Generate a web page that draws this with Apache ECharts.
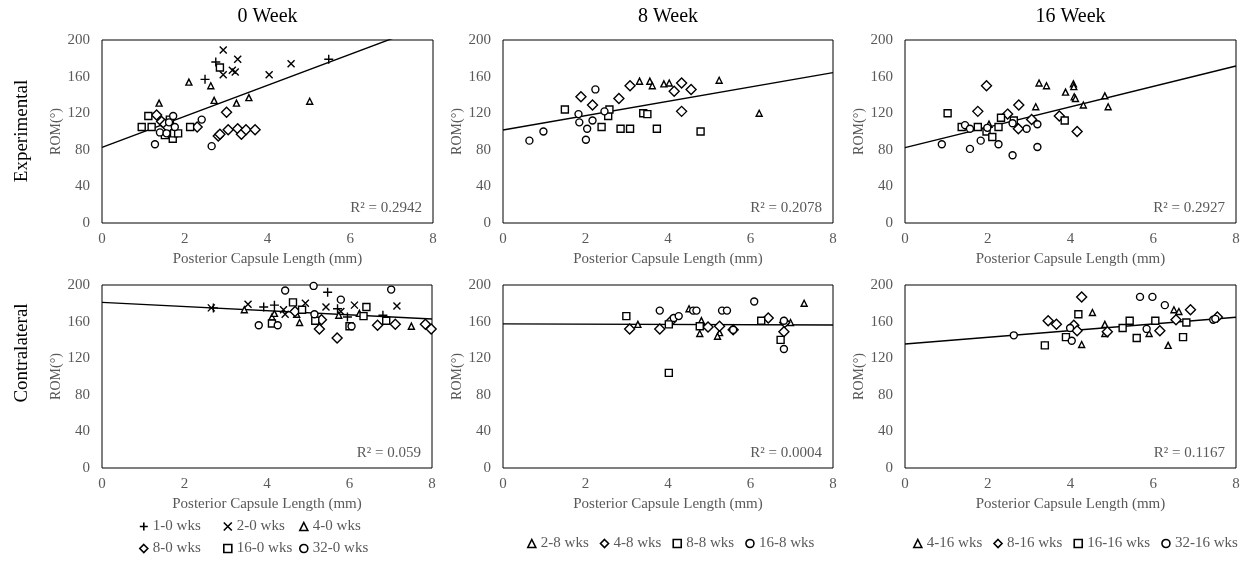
<!DOCTYPE html>
<html>
<head>
<meta charset="utf-8">
<script src="https://cdn.jsdelivr.net/npm/echarts@6/dist/echarts.min.js"></script>
<style>
  html, body { margin: 0; padding: 0; background: #fff; }
  #chart { width: 1246px; height: 569px; }
</style>
</head>
<body>
<div id="chart"></div>
<script>
// Axis ticks: posterior capsule length (mm) and range of motion (degrees)
const xTicks = [0, 2, 4, 6, 8];
const yTicks = [0, 40, 80, 120, 160, 200];

const columnTitles = ['0 Week', '8 Week', '16 Week'];
const rowTitles = ['Experimental', 'Contralateral'];

// Group names per time point
const groups0 = ['1-0 wks', '2-0 wks', '4-0 wks', '8-0 wks', '16-0 wks', '32-0 wks'];
const groups8 = ['2-8 wks', '4-8 wks', '8-8 wks', '16-8 wks'];
const groups16 = ['4-16 wks', '8-16 wks', '16-16 wks', '32-16 wks'];

// ---- Experimental, 0 week: [length, ROM] ----
const exp0_g1 = [[2.75, 176], [2.49, 157], [5.48, 179]];
const exp0_g2 = [[2.93, 189], [3.28, 179], [2.93, 162], [3.15, 167], [3.22, 165], [4.04, 162], [4.57, 174]];
const exp0_g4 = [[2.10, 154], [2.63, 150], [1.38, 131], [2.71, 134], [3.25, 131], [3.55, 137], [5.02, 133]];
const exp0_g8 = [[1.32, 118], [1.44, 111], [1.52, 108], [1.60, 104], [2.30, 105], [2.81, 95], [2.85, 97], [3.01, 121], [3.05, 102], [3.28, 103], [3.37, 97], [3.48, 102], [3.70, 102]];
const exp0_g16 = [[0.96, 105], [1.12, 117], [1.20, 105], [1.52, 96], [1.64, 113], [1.71, 92], [1.74, 98], [1.84, 98], [2.13, 105], [2.85, 170]];
const exp0_g32 = [[1.28, 86], [1.40, 99], [1.56, 98], [1.62, 110], [1.72, 117], [1.76, 105], [2.41, 113], [2.65, 84]];

// ---- Experimental, 8 week ----
const exp8_g2 = [[3.31, 155], [3.56, 155], [3.62, 150], [3.90, 152], [4.03, 153], [5.24, 156], [6.21, 120]];
const exp8_g4 = [[1.89, 138], [2.17, 129], [2.81, 136], [3.08, 150], [4.15, 144], [4.33, 153], [4.56, 146], [4.33, 122]];
const exp8_g8 = [[1.50, 124], [2.39, 105], [2.55, 117], [2.58, 124], [2.85, 103], [3.08, 103], [3.40, 120], [3.50, 119], [3.73, 103], [4.79, 100]];
const exp8_g16 = [[0.64, 90], [0.98, 100], [1.83, 119], [1.85, 110], [2.01, 91], [2.04, 103], [2.17, 112], [2.24, 146], [2.46, 122]];

// ---- Experimental, 16 week ----
const exp16_g4 = [[2.03, 108], [3.16, 127], [3.24, 153], [3.42, 150], [3.88, 143], [4.07, 152], [4.08, 149], [4.09, 138], [4.12, 136], [4.31, 129], [4.83, 139], [4.91, 127]];
const exp16_g8 = [[1.97, 150], [1.76, 122], [2.48, 119], [2.75, 129], [2.74, 103], [3.06, 113], [3.73, 117], [4.16, 100]];
const exp16_g16 = [[1.03, 120], [1.37, 105], [1.76, 105], [1.97, 100], [2.11, 94], [2.26, 105], [2.32, 115], [2.63, 112], [3.86, 112]];
const exp16_g32 = [[0.89, 86], [1.45, 107], [1.57, 103], [1.57, 81], [1.83, 90], [1.99, 104], [2.26, 86], [2.60, 74], [2.60, 109], [2.94, 103], [3.20, 108], [3.20, 83]];

// ---- Contralateral, 0 week ----
const con0_g1 = [[2.70, 175], [3.92, 176], [4.18, 178], [5.47, 192], [5.71, 174], [5.95, 165], [6.81, 167]];
const con0_g2 = [[2.65, 175], [3.54, 179], [4.40, 173], [4.44, 168], [4.93, 180], [5.43, 176], [5.79, 171], [6.12, 178], [7.15, 177]];
const con0_g4 = [[3.45, 173], [4.12, 165], [4.18, 169], [4.72, 168], [4.79, 159], [5.74, 167], [6.24, 169], [7.50, 155]];
const con0_g8 = [[4.68, 171], [5.27, 152], [5.32, 162], [5.70, 142], [6.68, 156], [7.11, 157], [7.84, 157], [7.98, 152]];
const con0_g16 = [[4.12, 158], [4.63, 181], [4.85, 173], [5.17, 161], [6.00, 155], [6.34, 166], [6.41, 176], [6.89, 161]];
const con0_g32 = [[3.80, 156], [4.26, 156], [4.44, 194], [5.13, 199], [5.15, 168], [5.79, 184], [6.05, 155], [7.01, 195]];

// ---- Contralateral, 8 week ----
const con8_g2 = [[3.27, 157], [4.51, 174], [4.81, 161], [4.77, 147], [5.25, 148], [5.20, 144], [6.97, 159], [7.30, 180]];
const con8_g4 = [[3.07, 152], [3.80, 152], [4.08, 161], [4.97, 154], [5.25, 155], [5.58, 151], [6.43, 164], [6.83, 159], [6.81, 149]];
const con8_g8 = [[2.99, 166], [4.02, 157], [4.02, 104], [4.77, 155], [6.26, 161], [6.73, 140]];
const con8_g16 = [[3.80, 172], [4.14, 164], [4.26, 166], [4.61, 172], [4.69, 172], [5.31, 172], [5.43, 172], [5.58, 151], [6.09, 182], [6.81, 161], [6.81, 130]];

// ---- Contralateral, 16 week ----
const con16_g4 = [[3.38, 134], [4.27, 135], [4.53, 170], [4.83, 157], [4.83, 147], [5.90, 147], [6.36, 134], [6.50, 173], [6.62, 171]];
const con16_g8 = [[3.46, 161], [3.66, 157], [4.08, 156], [4.16, 150], [4.27, 187], [4.89, 149], [6.16, 150], [6.55, 162], [6.90, 173], [7.55, 165]];
const con16_g16 = [[3.38, 134], [3.89, 143], [4.19, 168], [5.26, 153], [5.43, 161], [5.60, 142], [6.05, 161], [6.72, 143], [6.80, 159]];
const con16_g32 = [[2.63, 145], [3.99, 153], [4.03, 139], [5.68, 187], [5.84, 152], [5.98, 187], [6.28, 178], [7.45, 162], [7.50, 163]];

// Linear trend lines: [intercept, slope]
const trendExp0 = [82.7, 16.95];
const trendExp8 = [101.6, 7.84];
const trendExp16 = [82.4, 11.15];
const trendCon0 = [181.0, -2.27];
const trendCon8 = [157.5, -0.15];
const trendCon16 = [135.5, 3.65];

const r2Labels = ['R² = 0.2942', 'R² = 0.2078', 'R² = 0.2927', 'R² = 0.059', 'R² = 0.0004', 'R² = 0.1167'];

// ---------------------------------------------------------------
const FONT = '"Liberation Serif", "Times New Roman", serif';
const GRAY = '#595959';

const PLUS = 'path://M5,0L5,10M0,5L10,5';
const CROSS = 'path://M0,0L10,10M10,0L0,10';
const shapes0 = [
  { symbol: PLUS, size: 9 },
  { symbol: CROSS, size: 7 },
  { symbol: 'triangle', size: 6 },
  { symbol: 'diamond', size: 10 },
  { symbol: 'rect', size: 7 },
  { symbol: 'circle', size: 7 }
];
const shapes4 = [shapes0[2], shapes0[3], shapes0[4], shapes0[5]];

const panels = [
  { groups: groups0, shapes: shapes0, data: [exp0_g1, exp0_g2, exp0_g4, exp0_g8, exp0_g16, exp0_g32], trend: trendExp0 },
  { groups: groups8, shapes: shapes4, data: [exp8_g2, exp8_g4, exp8_g8, exp8_g16], trend: trendExp8 },
  { groups: groups16, shapes: shapes4, data: [exp16_g4, exp16_g8, exp16_g16, exp16_g32], trend: trendExp16 },
  { groups: groups0, shapes: shapes0, data: [con0_g1, con0_g2, con0_g4, con0_g8, con0_g16, con0_g32], trend: trendCon0 },
  { groups: groups8, shapes: shapes4, data: [con8_g2, con8_g4, con8_g8, con8_g16], trend: trendCon8 },
  { groups: groups16, shapes: shapes4, data: [con16_g4, con16_g8, con16_g16, con16_g32], trend: trendCon16 }
];

// Plot boxes (pixels)
const boxes = [
  { left: 102, top: 40, width: 331, height: 183 },
  { left: 503, top: 40, width: 330, height: 183 },
  { left: 905, top: 40, width: 331, height: 183 },
  { left: 102, top: 285, width: 330, height: 183 },
  { left: 503, top: 285, width: 330, height: 183 },
  { left: 905, top: 285, width: 331, height: 183 }
];

const xMin = xTicks[0], xMax = xTicks[xTicks.length - 1], xStep = xTicks[1] - xTicks[0];
const yMin = yTicks[0], yMax = yTicks[yTicks.length - 1], yStep = yTicks[1] - yTicks[0];

const grid = boxes.map(b => Object.assign({ show: true, borderColor: '#000', borderWidth: 1, backgroundColor: '#fff' }, b));

const labelStyle = { color: GRAY, fontFamily: FONT, fontSize: 15 };

const xAxis = boxes.map((b, i) => ({
  gridIndex: i, type: 'value', min: xMin, max: xMax, interval: xStep,
  axisLine: { show: false }, axisTick: { show: false }, splitLine: { show: false },
  axisLabel: Object.assign({ margin: 9 }, labelStyle),
  name: 'Posterior Capsule Length (mm)', nameLocation: 'middle', nameGap: 29,
  nameTextStyle: Object.assign({}, labelStyle)
}));

const yAxis = boxes.map((b, i) => ({
  gridIndex: i, type: 'value', min: yMin, max: yMax, interval: yStep,
  axisLine: { show: false }, axisTick: { show: false }, splitLine: { show: false },
  axisLabel: Object.assign({ margin: 12 }, labelStyle),
  name: 'ROM(°)', nameLocation: 'middle', nameGap: 32, nameRotate: 90,
  nameTextStyle: Object.assign({}, labelStyle, { fontSize: 14 })
}));

const series = [];
panels.forEach((p, i) => {
  p.groups.forEach((name, k) => {
    series.push({
      type: 'scatter', name: name, xAxisIndex: i, yAxisIndex: i,
      symbol: p.shapes[k].symbol, symbolSize: p.shapes[k].size,
      itemStyle: { color: '#fff', borderColor: '#000', borderWidth: 1.4, opacity: 1 },
      emphasis: { disabled: true },
      data: p.data[k], z: 3
    });
  });
  const [b0, m] = p.trend;
  series.push({
    type: 'line', xAxisIndex: i, yAxisIndex: i, clip: true, silent: true,
    symbol: 'none', lineStyle: { color: '#000', width: 1.4 },
    data: [[xMin, b0], [xMax, b0 + m * xMax]], z: 2
  });
});

// Legends: 0-week groups as a 3x2 table, 8- and 16-week groups in one row each
const legendBase = {
  orient: 'horizontal', padding: 0, itemWidth: 8, itemHeight: 8, selectedMode: false,
  itemStyle: { borderWidth: 1.6, borderColor: '#000' },
  textStyle: { color: GRAY, fontFamily: FONT, fontSize: 15 }
};
const tableCols = [139, 223, 299];
const tableRows = [527, 549];
const legend = [];
groups0.forEach((name, k) => {
  legend.push(Object.assign({}, legendBase, {
    data: [name], left: tableCols[k % 3], top: tableRows[Math.floor(k / 3)] - 8
  }));
});
legend.push(Object.assign({}, legendBase, { data: groups8, left: 527, top: 536, itemGap: 11 }));
legend.push(Object.assign({}, legendBase, { data: groups16, left: 913, top: 536, itemGap: 11 }));

// Column titles, row titles and R² notes
const graphic = [];
[0, 1, 2].forEach(c => {
  const b = boxes[c];
  graphic.push({ type: 'text', x: b.left + b.width / 2, y: 17,
    style: { text: columnTitles[c], fill: '#000', font: '20px ' + FONT, align: 'center', verticalAlign: 'middle' } });
});
graphic.push({ type: 'text', x: 22, y: 131, rotation: Math.PI / 2,
  style: { text: rowTitles[0], fill: '#000', font: '19px ' + FONT, align: 'center', verticalAlign: 'middle' } });
graphic.push({ type: 'text', x: 22, y: 353, rotation: Math.PI / 2,
  style: { text: rowTitles[1], fill: '#000', font: '19px ' + FONT, align: 'center', verticalAlign: 'middle' } });
boxes.forEach((b, i) => {
  graphic.push({ type: 'text', x: b.left + b.width - 11, y: b.top + b.height - 15, z: 10,
    style: { text: r2Labels[i], fill: GRAY, font: '15px ' + FONT, align: 'right', verticalAlign: 'middle' } });
});

const chart = echarts.init(document.getElementById('chart'), null, { renderer: 'canvas' });
chart.setOption({
  animation: false,
  backgroundColor: '#fff',
  textStyle: { fontFamily: FONT },
  grid, xAxis, yAxis, series, legend, graphic
});
</script>
</body>
</html>
